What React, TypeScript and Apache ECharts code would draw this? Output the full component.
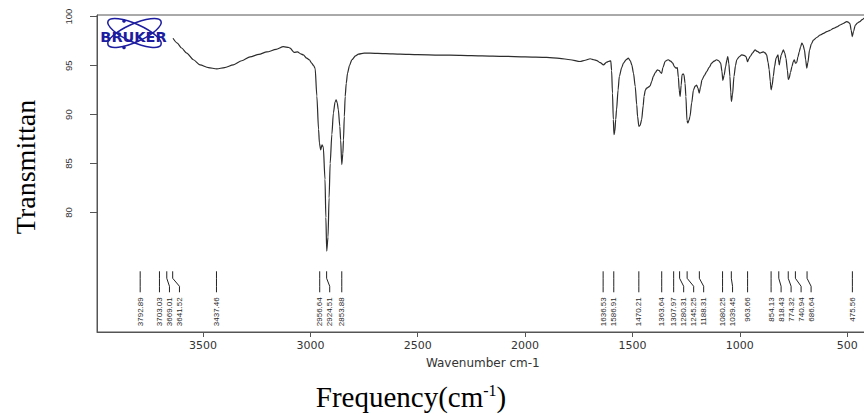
import React, { useEffect, useRef } from "react";
import * as echarts from "echarts";

// Spectrum (wavenumber cm-1 -> transmittance %)
const wavenumbers = [
  3640, 3620, 3600, 3576, 3545, 3514, 3475, 3436, 3400, 3359, 3320, 3281, 3240, 3203, 3160, 3126,
  3100, 3095, 3075, 3060, 3045, 3033, 3017, 3005, 2994, 2985, 2978, 2970, 2962, 2958, 2952, 2946,
  2940, 2932, 2928, 2924, 2918, 2913, 2908, 2900, 2893, 2885, 2880, 2875, 2870, 2863, 2859, 2854,
  2849, 2846, 2842, 2838, 2833, 2827, 2818, 2807, 2790, 2776, 2750, 2722, 2650, 2582, 2500, 2400,
  2300, 2200, 2100, 2000, 1900, 1840, 1790, 1744, 1720, 1697, 1680, 1666, 1650, 1635, 1620, 1612,
  1601, 1597, 1593, 1589, 1586, 1582, 1578, 1574, 1567, 1561, 1550, 1542, 1530, 1519, 1510, 1503,
  1495, 1487, 1480, 1476, 1470, 1464, 1457, 1450, 1446, 1440, 1434, 1426, 1418, 1410, 1403, 1393,
  1384, 1375, 1369, 1364, 1358, 1348, 1340, 1333, 1322, 1312, 1305, 1297, 1291, 1286, 1282, 1278,
  1273, 1269, 1264, 1260, 1255, 1251, 1246, 1242, 1237, 1232, 1224, 1216, 1208, 1201, 1195, 1189,
  1183, 1176, 1165, 1154, 1142, 1131, 1120, 1108, 1098, 1089, 1083, 1079, 1073, 1066, 1060, 1056,
  1051, 1046, 1042, 1039, 1034, 1027, 1020, 1014, 1003, 991, 980, 971, 964, 958, 952, 940,
  929, 918, 906, 898, 890, 882, 875, 868, 863, 858, 854, 849, 844, 838, 831, 822,
  818, 816, 812, 807, 797, 791, 785, 778, 774, 770, 764, 757, 751, 746, 741, 735,
  729, 723, 717, 711, 705, 699, 693, 688, 683, 675, 667, 657, 640, 626, 610, 595,
  580, 564, 548, 533, 518, 502, 495, 487, 481, 476, 470, 462, 452, 441, 430, 420, 410,
];
const transmittance = [
  97.8, 97.3, 96.8, 96.27, 95.6, 95.08, 94.8, 94.67, 94.8, 95.08, 95.5, 95.9, 96.15, 96.4, 96.65, 96.94,
  96.85, 96.78, 96.35, 96.4, 96.2, 96.1, 95.76, 95.6, 95.25, 95.0, 94.74, 91.9, 88.5, 87.1, 86.4, 86.9,
  86.7, 83.4, 79.5, 76.06, 77.5, 81.5, 85.0, 88.0, 90.16, 91.3, 91.5, 91.2, 90.5, 88.8, 87.4, 84.9,
  86.0, 87.4, 89.8, 91.85, 93.2, 94.23, 95.0, 95.6, 96.0, 96.17, 96.27, 96.27, 96.22, 96.17, 96.12, 96.08,
  96.05, 96.0, 95.95, 95.9, 95.85, 95.75, 95.6, 95.42, 95.55, 95.7, 95.6, 95.52, 95.3, 95.08, 95.35, 95.42,
  95.5, 94.5, 92.2, 89.5, 87.95, 88.3, 89.5, 90.5, 92.5, 93.9, 94.8, 95.25, 95.6, 95.76, 95.5, 95.08,
  94.2, 92.87, 91.0, 89.8, 88.8, 88.9, 89.5, 90.9, 91.85, 92.5, 92.7, 92.8, 92.94, 93.4, 93.9, 94.3,
  94.57, 94.5, 94.3, 94.2, 94.8, 95.42, 95.55, 95.6, 95.45, 95.25, 94.9, 94.74, 94.8, 93.8, 92.5, 91.85,
  93.0, 94.06, 94.15, 94.06, 93.2, 91.85, 89.4, 89.14, 89.4, 89.8, 91.2, 92.5, 92.9, 93.0, 92.7, 92.2,
  92.8, 93.55, 94.0, 94.4, 94.85, 95.25, 95.45, 95.6, 95.5, 95.25, 94.4, 93.5, 94.0, 94.9, 95.6, 95.93,
  95.2, 93.9, 92.3, 91.34, 92.0, 93.9, 95.0, 95.6, 95.9, 96.1, 96.05, 95.93, 95.4, 95.7, 95.93, 96.3,
  96.6, 96.45, 96.27, 96.35, 96.4, 96.3, 96.1, 95.3, 94.57, 93.4, 92.53, 93.0, 93.9, 94.9, 95.76, 96.1,
  95.3, 95.08, 95.6, 96.1, 96.6, 96.3, 95.76, 94.5, 93.6, 93.7, 94.3, 94.9, 95.4, 95.6, 95.25, 95.3,
  95.9, 96.4, 96.9, 97.3, 97.1, 96.6, 95.6, 94.74, 95.3, 96.6, 97.2, 97.6, 97.9, 98.13, 98.3, 98.47,
  98.6, 98.8, 98.95, 99.15, 99.3, 99.49, 99.45, 99.3, 98.6, 97.96, 98.5, 99.15, 99.35, 99.49, 99.7, 99.85, 99.9,
];

// Peak annotations
const peakWavenumbers = [
  3792.89, 3703.03, 3669.01, 3641.52, 3437.46, 2956.64, 2924.51, 2853.88, 1636.53, 1586.91, 1470.21,
  1363.64, 1307.97, 1280.31, 1245.25, 1188.31, 1080.25, 1039.45, 963.66, 854.13, 818.43, 774.32,
  740.94, 686.64, 475.56,
];
const peakLabels = peakWavenumbers.map((w) => w.toFixed(2));

// Axis ticks
const xTicks = [3500, 3000, 2500, 2000, 1500, 1000, 500];
const yTicks = [80, 85, 90, 95, 100];

const X_LOW = 400;
const X_HIGH = 3994;
const Y_MIN = 67.8;
const Y_MAX = 100.17;
const PEAK_TOP_T = 74;

export default function App() {
  const ref = useRef<HTMLDivElement>(null);

  useEffect(() => {
    if (!ref.current) return;
    const chart = echarts.init(ref.current, null, { renderer: "svg" });
    const blue = "#1c1ca0";
    const gap = 10;

    const option: any = {
      animation: false,
      backgroundColor: "#ffffff",
      grid: {
        left: 97,
        top: 15,
        width: 771.6,
        height: 317,
        show: true,
        borderColor: "#555",
        borderWidth: 1,
        backgroundColor: "transparent",
      },
      xAxis: {
        type: "value",
        inverse: true,
        min: X_LOW,
        max: X_HIGH,
        splitLine: { show: false },
        axisLine: { show: true, lineStyle: { color: "#555", width: 1 } },
        axisTick: {
          show: true,
          customValues: xTicks,
          length: 5,
          inside: false,
          lineStyle: { color: "#555" },
        },
        axisLabel: {
          customValues: xTicks,
          formatter: (v: number) => String(v),
          fontSize: 11,
          fontFamily: "DejaVu Sans",
          color: "#333",
          margin: 8,
        },
        name: "Wavenumber cm-1",
        nameLocation: "middle",
        nameGap: 25,
        nameTextStyle: { fontSize: 12, fontFamily: "DejaVu Sans", color: "#333" },
      },
      yAxis: {
        type: "value",
        min: Y_MIN,
        max: Y_MAX,
        splitLine: { show: false },
        axisLine: { show: true, lineStyle: { color: "#555", width: 1 } },
        axisTick: {
          show: true,
          customValues: yTicks,
          length: 7,
          lineStyle: { color: "#555" },
        },
        axisLabel: {
          customValues: yTicks,
          formatter: (v: number) => String(v),
          rotate: 90,
          fontSize: 9.5,
          fontFamily: "Liberation Sans",
          color: "#333",
          margin: 24,
        },
      },
      series: [
        {
          type: "line",
          data: wavenumbers.map((w, i) => [w, transmittance[i]]),
          showSymbol: false,
          smooth: 0.25,
          smoothMonotone: "x",
          lineStyle: { color: "#2d2d2d", width: 1.2 },
          silent: true,
          z: 2,
        },
        {
          type: "custom",
          coordinateSystem: "cartesian2d",
          clip: false,
          silent: true,
          z: 3,
          data: peakWavenumbers.map((w) => [w, PEAK_TOP_T]),
          renderItem: (params: any, api: any) => {
            const i = params.dataIndex;
            let lx = -Infinity;
            let myPx = 0;
            let myLx = 0;
            for (let j = 0; j <= i; j++) {
              const px = api.coord([peakWavenumbers[j], PEAK_TOP_T])[0];
              lx = Math.max(px, lx + gap);
              if (j === i) {
                myPx = px;
                myLx = lx;
              }
            }
            const top = api.coord([peakWavenumbers[i], PEAK_TOP_T])[1];
            return {
              type: "group",
              children: [
                {
                  type: "polyline",
                  shape: {
                    points: [
                      [myPx, top],
                      [myPx, top + 7],
                      [myLx, top + 15],
                      [myLx, top + 21],
                    ],
                  },
                  style: { stroke: "#222", lineWidth: 1, fill: null },
                },
                {
                  type: "text",
                  x: myLx,
                  y: top + 26,
                  rotation: Math.PI / 2,
                  style: {
                    text: peakLabels[i],
                    align: "right",
                    verticalAlign: "middle",
                    fontSize: 8,
                    fontFamily: "Liberation Sans",
                    fill: "#2a2a2a",
                  },
                },
              ],
            };
          },
        },
      ],
      graphic: [
        {
          type: "text",
          x: 25,
          y: 167,
          rotation: Math.PI / 2,
          style: {
            text: "Transmittan",
            align: "center",
            verticalAlign: "middle",
            fontSize: 28,
            fontFamily: "Liberation Serif",
            fill: "#000",
          },
        },
        {
          type: "text",
          x: 411,
          y: 397,
          style: {
            text: "{a|Frequency(cm}{b|-1}{a|)}",
            align: "center",
            verticalAlign: "middle",
            rich: {
              a: { fontSize: 29, fontFamily: "Liberation Serif", fill: "#000" },
              b: {
                fontSize: 16,
                fontFamily: "Liberation Serif",
                fill: "#000",
                verticalAlign: "top",
              },
            },
          },
        },
        {
          type: "group",
          z: 10,
          children: [
            {
              type: "ellipse",
              x: 134.5,
              y: 33,
              rotation: 0.42,
              shape: { cx: 0, cy: 0, rx: 29, ry: 9 },
              style: { stroke: blue, fill: "transparent", lineWidth: 1.5 },
            },
            {
              type: "ellipse",
              x: 134.5,
              y: 33,
              rotation: -0.42,
              shape: { cx: 0, cy: 0, rx: 29, ry: 9 },
              style: { stroke: blue, fill: "transparent", lineWidth: 1.5 },
            },
            {
              type: "circle",
              shape: { cx: 124, cy: 21, r: 1.8 },
              style: { fill: blue },
            },
            {
              type: "circle",
              shape: { cx: 124, cy: 47.5, r: 1.8 },
              style: { fill: blue },
            },
            {
              type: "text",
              x: 133.5,
              y: 36.5,
              style: {
                text: "BRUKER",
                align: "center",
                verticalAlign: "middle",
                fontSize: 14.5,
                fontWeight: "bold",
                fontFamily: "DejaVu Sans",
                fill: blue,
              },
            },
          ],
        },
      ],
    };

    chart.setOption(option);
    return () => chart.dispose();
  }, []);

  return (
    <div
      ref={ref}
      style={{ position: "fixed", left: 0, top: 0, width: 880, height: 416, background: "#fff" }}
    />
  );
}
